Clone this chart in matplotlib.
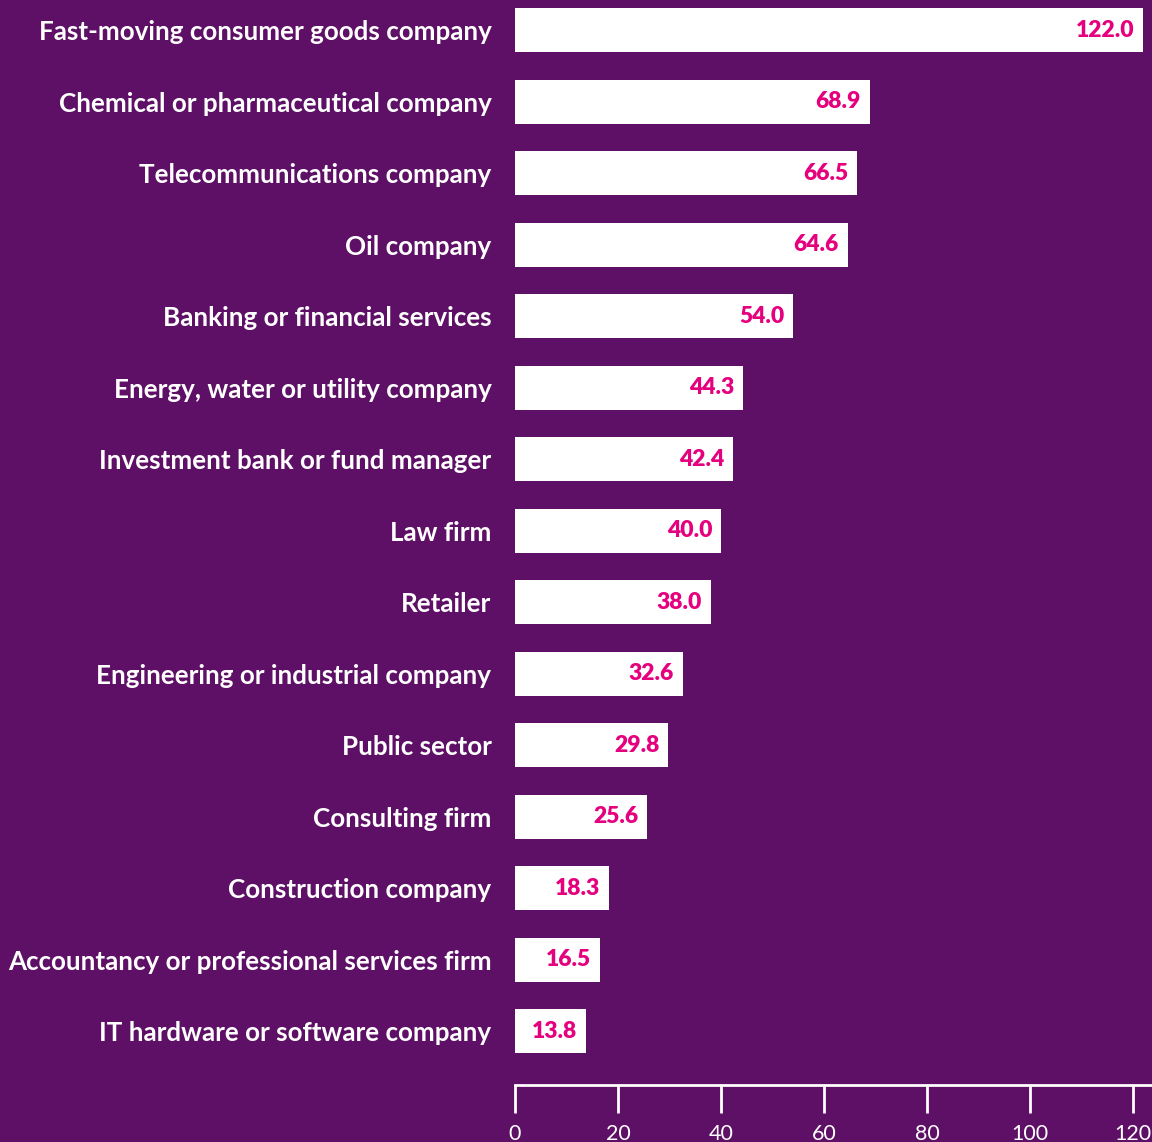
import matplotlib.pyplot as plt

categories = [
    "Fast-moving consumer goods company",
    "Chemical or pharmaceutical company",
    "Telecommunications company",
    "Oil company",
    "Banking or financial services",
    "Energy, water or utility company",
    "Investment bank or fund manager",
    "Law firm",
    "Retailer",
    "Engineering or industrial company",
    "Public sector",
    "Consulting firm",
    "Construction company",
    "Accountancy or professional services firm",
    "IT hardware or software company",
]
values = [122.0, 68.9, 66.5, 64.6, 54.0, 44.3, 42.4, 40.0, 38.0, 32.6, 29.8, 25.6, 18.3, 16.5, 13.8]
xticks = [0, 20, 40, 60, 80, 100, 120]

BG = "#5E1066"
PINK = "#E5007D"

plt.rcParams['font.family'] = ['Lato', 'DejaVu Sans']

fig = plt.figure(figsize=(11.52, 11.42), dpi=100, facecolor=BG)
ax = fig.add_axes([515 / 1152, 57 / 1142, 1 - 515 / 1152, 1085 / 1142])
ax.set_facecolor(BG)

pos = list(range(len(categories)))
ax.barh(pos, values, height=0.615, color="white", edgecolor="none")

# value labels sit inside the right end of each bar
for p, v in zip(pos, values):
    ax.text(v - 1.7, p, f"{v:.1f}", ha="right", va="center",
            color=PINK, fontsize=16.5, fontweight="heavy")

ax.set_xlim(0, 123.7)
ax.set_ylim(14.755, -0.42)

ax.set_yticks(pos, categories)
ax.tick_params(axis="y", length=0, pad=17, labelsize=18.7, labelcolor="white")
for lbl in ax.get_yticklabels():
    lbl.set_fontweight("bold")

ax.set_xticks(xticks)
ax.tick_params(axis="x", direction="out", length=20, width=2, color="white",
               labelsize=15.5, labelcolor="white", pad=8)

for side in ["top", "right", "left"]:
    ax.spines[side].set_visible(False)
ax.spines["bottom"].set_color("white")
ax.spines["bottom"].set_linewidth(2)

fig.savefig("out.png", dpi=100, facecolor=BG)
